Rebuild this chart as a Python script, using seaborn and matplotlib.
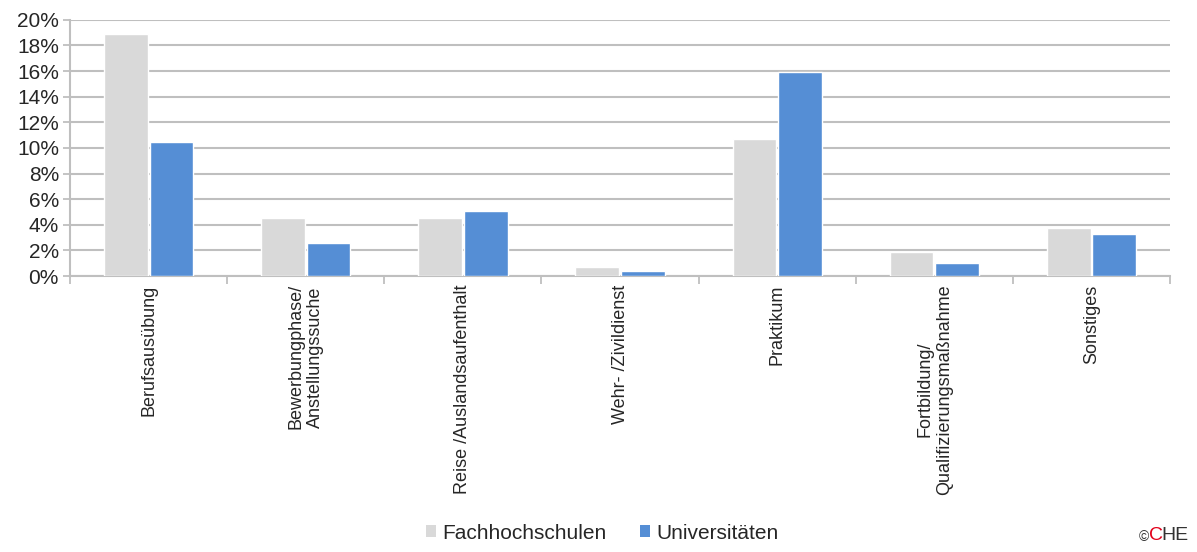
import pandas as pd
import numpy as np
import matplotlib.pyplot as plt
import seaborn as sns
from matplotlib.ticker import FuncFormatter, FixedLocator
from matplotlib.patches import Patch

# Data
categories = ["Berufsausübung", "Bewerbungphase/\nAnstellungssuche", "Reise /Auslandsaufenthalt",
              "Wehr- /Zivildienst", "Praktikum", "Fortbildung/\nQualifizierungsmaßnahme", "Sonstiges"]
fachhochschulen = [18.9, 4.5, 4.5, 0.7, 10.7, 1.9, 3.75]
universitaeten = [10.5, 2.6, 5.1, 0.4, 15.9, 1.0, 3.3]
series = ["Fachhochschulen", "Universitäten"]
colors = ["#D9D9D9", "#558ED5"]

df = pd.DataFrame({
    "Kategorie": categories * 2,
    "Gruppe": [series[0]] * len(categories) + [series[1]] * len(categories),
    "Wert": fachhochschulen + universitaeten,
})

sns.set_style("white")
plt.rcParams['font.family'] = ['Liberation Sans', 'DejaVu Sans']

fig = plt.figure(figsize=(11.97, 5.52), dpi=100)
ax = fig.add_axes([0.0585, 0.5, 0.919, 0.464])

sns.barplot(data=df, x="Kategorie", y="Wert", hue="Gruppe", palette=colors, saturation=1,
            width=0.58, gap=0.04, edgecolor="white", linewidth=1, ax=ax, legend=False, zorder=3)

ax.set_ylim(0, 20)
ax.set_xlim(-0.5, len(categories) - 0.5)
ax.set_yticks(np.arange(0, 21, 2))
ax.yaxis.set_major_formatter(FuncFormatter(lambda v, p: f"{v:.0f}%"))
ax.tick_params(axis="y", labelsize=15, length=5, color="#BFBFBF", width=1.3, pad=3, left=True)
ax.grid(axis="y", color="#BFBFBF", linewidth=1.5, zorder=0)
ax.set_axisbelow(True)

ax.set_xticks(range(len(categories)))
ax.set_xticklabels(categories, rotation=90, fontsize=13, va="top", ha="center", multialignment="center")
ax.tick_params(axis="x", length=0, pad=6)
ax.xaxis.set_minor_locator(FixedLocator(np.arange(-0.5, len(categories), 1)))
ax.tick_params(axis="x", which="minor", length=6, color="#BFBFBF", width=1.3, bottom=True)

ax.set_xlabel("")
ax.set_ylabel("")
for s in ["top", "right"]:
    ax.spines[s].set_visible(False)
for s in ["left", "bottom"]:
    ax.spines[s].set_color("#BFBFBF")
    ax.spines[s].set_linewidth(1.5)

handles = [Patch(facecolor=c, edgecolor="none") for c in colors]
fig.legend(handles, series, loc="center", bbox_to_anchor=(0.503, 0.034), ncol=2, frameon=False,
           fontsize=15, handlelength=0.5, handleheight=0.5, handletextpad=0.3, columnspacing=1.6)

fig.text(0.96, 0.015, "©", fontsize=10, color="#333333", ha="right", va="bottom")
fig.text(0.96, 0.015, "C", fontsize=14, color="#E2001A", ha="left", va="bottom")
fig.text(0.97, 0.015, "HE", fontsize=14, color="#333333", ha="left", va="bottom")

plt.savefig("out.png", dpi=100)
